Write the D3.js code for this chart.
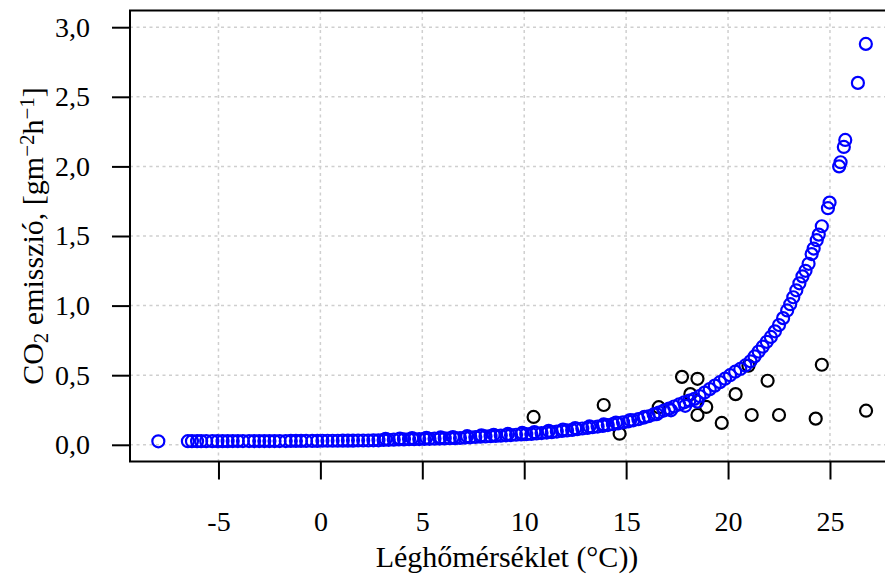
<!DOCTYPE html>
<html>
<head>
<meta charset="utf-8">
<script src="https://cdn.jsdelivr.net/npm/d3@7"></script>
<style>
  body { margin: 0; background: #fff; }
  svg { display: block; }
  text { font-family: "Liberation Serif", "Times New Roman", serif; }
</style>
</head>
<body>
<svg id="chart" width="885" height="575"></svg>
<script>
// black points: measured values that fall off the fitted curve
const blackTemp = [10.46, 13.9, 14.68, 16.6, 17.74, 18.15, 18.5, 18.5, 18.93, 19.69,
  20.37, 21.0, 21.16, 21.94, 22.5, 24.3, 24.6, 26.77];
const blackCO2 = [0.20, 0.286, 0.08, 0.27, 0.488, 0.364, 0.474, 0.214, 0.272, 0.157,
  0.364, 0.568, 0.214, 0.46, 0.214, 0.188, 0.575, 0.245];

// blue points: the curve
const blueTemp = [
  -7.95, -6.5, -6.3, -6.05, -5.85, -5.6, -5.3, -5.05, -4.8, -4.55,
  -4.3, -4.05, -3.8, -3.5, -3.25, -3.0, -2.75, -2.5, -2.25, -2.0,
  -1.7, -1.45, -1.2, -0.95, -0.7, -0.4, -0.15, 0.1, 0.35, 0.6,
  0.85, 1.1, 1.35, 1.6, 1.85, 2.1, 2.35, 2.6, 2.85, 3.1,
  3.35, 3.6, 3.85, 4.1, 4.35, 4.6, 4.85, 5.1, 5.35, 5.6,
  5.85, 6.1, 6.35, 6.6, 6.85, 7.1, 7.35, 7.6, 7.85, 8.1,
  8.35, 8.6, 8.85, 9.1, 9.35, 9.6, 9.85, 10.1, 10.35, 10.6,
  10.85, 11.1, 11.35, 11.6, 11.85, 12.1, 12.35, 12.6, 12.85, 13.1,
  13.35, 13.6, 13.85, 14.1, 14.35, 14.6, 14.85, 15.1, 15.35, 15.6,
  15.85, 16.1, 16.35, 16.6, 16.85, 17.1, 17.35, 17.6, 17.85, 18.1,
  18.35, 18.6, 18.85, 19.1, 19.35, 19.6, 19.85, 20.1, 20.35, 20.6,
  20.85, 21.1, 21.3, 21.5, 21.7, 21.9, 22.1, 22.3, 22.5, 22.7,
  22.9, 23.05, 23.2, 23.35, 23.5, 23.65, 23.8, 23.95, 24.1, 24.2,
  24.35, 24.45, 24.6, 24.9, 24.98, 25.45, 25.52, 25.68, 25.75, 26.37,
  26.76,
  3.2, 3.9, 4.5, 5.2, 5.9, 6.5, 7.2, 7.9, 8.5, 9.2,
  9.9, 10.5, 11.2, 11.9, 12.5, 13.2, 13.9, 14.5, 15.2, 15.9,
  16.5, 17.2, 17.9, 18.5];
const blueCO2 = [
  0.025, 0.026, 0.026, 0.026, 0.026, 0.026, 0.026, 0.026, 0.026, 0.026,
  0.027, 0.027, 0.027, 0.027, 0.027, 0.027, 0.027, 0.027, 0.027, 0.027,
  0.027, 0.028, 0.028, 0.028, 0.028, 0.028, 0.028, 0.029, 0.029, 0.029,
  0.029, 0.030, 0.030, 0.030, 0.031, 0.031, 0.031, 0.032, 0.032, 0.035,
  0.036, 0.037, 0.038, 0.039, 0.040, 0.040, 0.041, 0.042, 0.043, 0.044,
  0.045, 0.046, 0.047, 0.048, 0.049, 0.052, 0.054, 0.056, 0.058, 0.060,
  0.062, 0.064, 0.066, 0.068, 0.070, 0.072, 0.074, 0.076, 0.078, 0.081,
  0.084, 0.088, 0.091, 0.095, 0.099, 0.103, 0.107, 0.112, 0.117, 0.121,
  0.126, 0.131, 0.136, 0.142, 0.148, 0.154, 0.161, 0.168, 0.176, 0.184,
  0.195, 0.205, 0.218, 0.232, 0.246, 0.26, 0.275, 0.29, 0.305, 0.318,
  0.33, 0.35, 0.375, 0.40, 0.425, 0.45, 0.475, 0.50, 0.525, 0.545,
  0.57, 0.60, 0.635, 0.67, 0.705, 0.74, 0.775, 0.815, 0.86, 0.91,
  0.965, 1.01, 1.06, 1.11, 1.16, 1.21, 1.25, 1.30, 1.37, 1.41,
  1.47, 1.51, 1.57, 1.70, 1.74, 2.00, 2.03, 2.14, 2.19, 2.60,
  2.88,
  0.042, 0.045, 0.048, 0.050, 0.053, 0.056, 0.062, 0.068, 0.072, 0.078,
  0.085, 0.092, 0.100, 0.110, 0.120, 0.132, 0.146, 0.160, 0.178, 0.200,
  0.220, 0.248, 0.280, 0.310];

const xTicks = [-5, 0, 5, 10, 15, 20, 25];
const yTicks = [0, 0.5, 1, 1.5, 2, 2.5, 3];

const svg = d3.select('#chart');
const plotLeft = 130, plotRight = 895, plotTop = 10.5, plotBottom = 461.5;

const x = d3.scaleLinear().domain([-9.34, 28.19]).range([plotLeft, plotRight]);
const y = d3.scaleLinear().domain([-0.12, 3.12]).range([plotBottom, plotTop]);

svg.append('rect').attr('width', 885).attr('height', 575).attr('fill', '#fff');

// grid
const grid = svg.append('g')
  .attr('stroke', '#cfcfcf')
  .attr('stroke-width', 1.5)
  .attr('stroke-dasharray', '3,3.5');
grid.selectAll('.gx').data(xTicks).enter().append('line')
  .attr('x1', d => x(d)).attr('x2', d => x(d))
  .attr('y1', plotTop).attr('y2', plotBottom);
grid.selectAll('.gy').data(yTicks).enter().append('line')
  .attr('x1', plotLeft).attr('x2', plotRight)
  .attr('y1', d => y(d)).attr('y2', d => y(d));

// points
svg.append('g').selectAll('circle')
  .data(d3.zip(blackTemp, blackCO2)).enter().append('circle')
  .attr('cx', d => x(d[0])).attr('cy', d => y(d[1]))
  .attr('r', 6).attr('fill', 'none')
  .attr('stroke', '#000').attr('stroke-width', 2.2);

svg.append('g').selectAll('circle')
  .data(d3.zip(blueTemp, blueCO2)).enter().append('circle')
  .attr('cx', d => x(d[0])).attr('cy', d => y(d[1]))
  .attr('r', 6).attr('fill', 'none')
  .attr('stroke', '#0000ff').attr('stroke-width', 2.2);

// box
svg.append('rect')
  .attr('x', plotLeft).attr('y', plotTop)
  .attr('width', plotRight - plotLeft).attr('height', plotBottom - plotTop)
  .attr('fill', 'none').attr('stroke', '#000').attr('stroke-width', 2);

// axes
const xAxis = svg.append('g')
  .attr('transform', 'translate(0,' + plotBottom + ')')
  .call(d3.axisBottom(x).tickValues(xTicks).tickFormat(d => String(d))
    .tickSize(18).tickPadding(32));
const yAxis = svg.append('g')
  .attr('transform', 'translate(' + plotLeft + ',0)')
  .call(d3.axisLeft(y).tickValues(yTicks)
    .tickFormat(d => d3.format('.1f')(d).replace('.', ','))
    .tickSize(18).tickPadding(22));

[xAxis, yAxis].forEach(a => {
  a.select('.domain').remove();
  a.selectAll('.tick line').attr('stroke', '#000').attr('stroke-width', 2);
  a.selectAll('.tick text')
    .attr('fill', '#000')
    .style('font-family', '"Liberation Serif", "Times New Roman", serif')
    .style('font-size', '28px');
});

// titles
svg.append('text')
  .attr('x', 507).attr('y', 567)
  .attr('text-anchor', 'middle')
  .style('font-size', '30px')
  .text('Léghőmérséklet (°C))');

const yt = svg.append('text')
  .attr('transform', 'translate(43,236) rotate(-90)')
  .attr('text-anchor', 'middle')
  .style('font-size', '30px');
yt.append('tspan').text('CO');
yt.append('tspan').attr('baseline-shift', '-25%').style('font-size', '21px').text('2');
yt.append('tspan').text(' emisszió, [gm');
yt.append('tspan').attr('baseline-shift', '45%').style('font-size', '21px').text('−2');
yt.append('tspan').text('h');
yt.append('tspan').attr('baseline-shift', '45%').style('font-size', '21px').text('−1');
yt.append('tspan').text(']');
</script>
</body>
</html>
